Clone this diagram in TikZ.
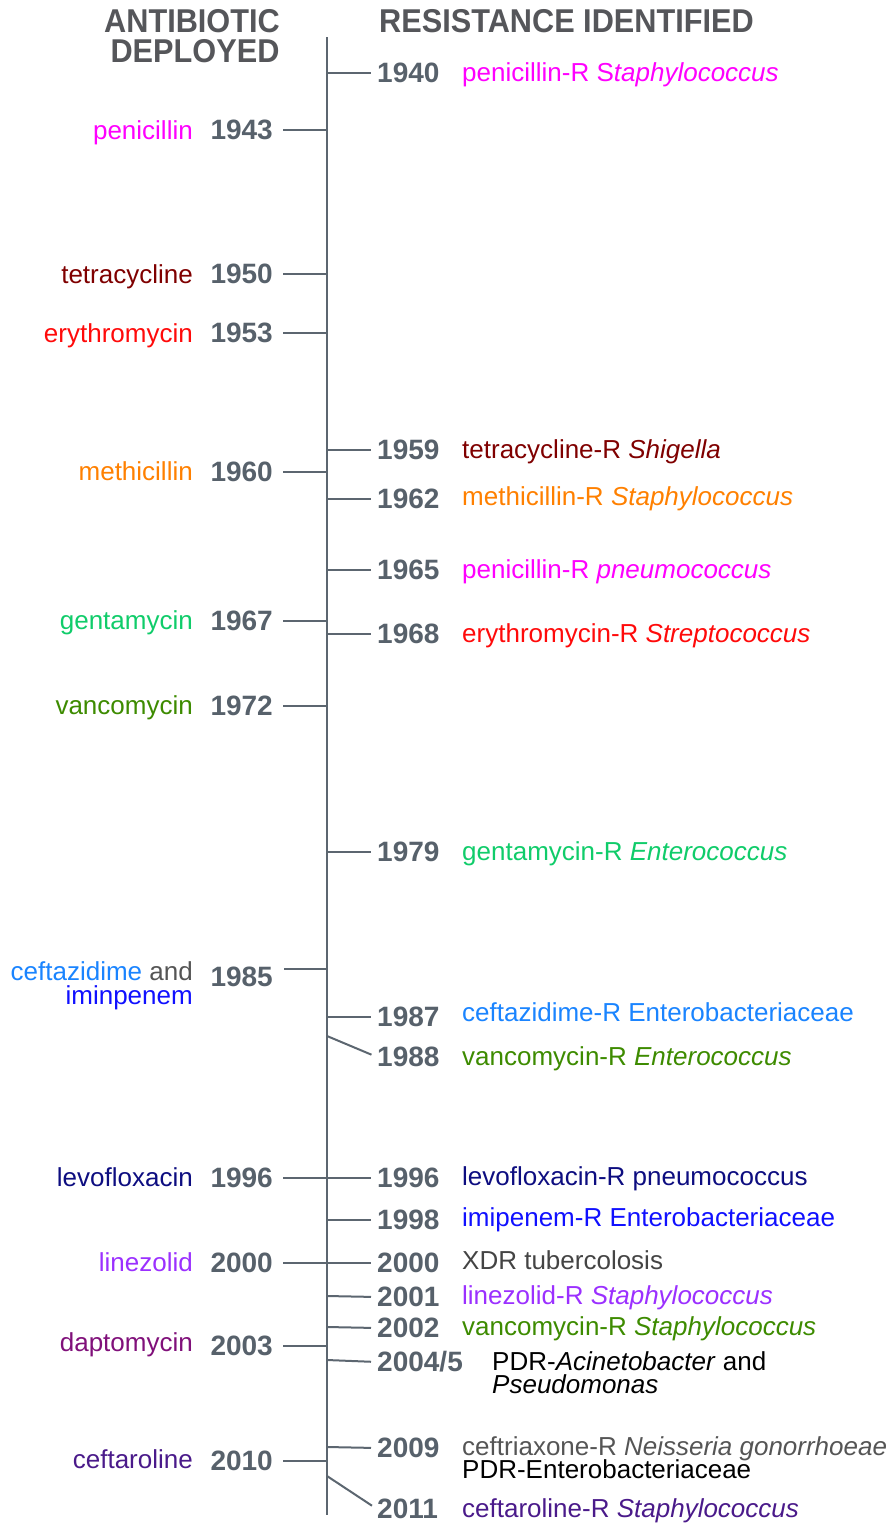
\documentclass[tikz,border=0pt]{standalone}
\usepackage{fontspec}
\setmainfont{Liberation Sans}
\newfontfamily\hdfont[FakeStretch=0.93]{Liberation Sans}
\definecolor{axisgray}{HTML}{5C6670}
\definecolor{yrgray}{HTML}{57616B}
\definecolor{hdgray}{HTML}{55565A}
\definecolor{cMag}{HTML}{FF00FF}
\definecolor{cDkred}{HTML}{7F0000}
\definecolor{cRed}{HTML}{FF0A0A}
\definecolor{cOrange}{HTML}{FF8000}
\definecolor{cGreen}{HTML}{10CC6A}
\definecolor{cOlive}{HTML}{3D8B00}
\definecolor{cLblue}{HTML}{1A84FF}
\definecolor{cBlue}{HTML}{1010FF}
\definecolor{cNavy}{HTML}{0D0D80}
\definecolor{cViolet}{HTML}{9B30FF}
\definecolor{cPlum}{HTML}{80107A}
\definecolor{cIndigo}{HTML}{4A1A8A}
\definecolor{cGray}{HTML}{444444}
\definecolor{cGray2}{HTML}{555555}
\begin{document}
\begin{tikzpicture}[x=1pt,y=-1pt,
  yr/.style={font=\fontsize{28}{30}\selectfont\bfseries, text=yrgray, inner sep=0pt},
  lbl/.style={font=\fontsize{26}{28}\selectfont, inner sep=0pt},
  hd/.style={font=\hdfont\fontsize{33}{32}\selectfont\bfseries, text=hdgray, inner sep=0pt, text depth=0pt, text height=23pt},
  tick/.style={draw=axisgray, line width=2pt},
  rtick/.style={tick, shorten >=6pt},
  ltick/.style={tick, shorten >=10pt}]
\useasboundingbox (0,0) rectangle (891,1523);

% headers
\node[hd, anchor=base] (h1) at (192,32) {ANTIBIOTIC};
\node[hd, anchor=base] (h2) at (195,62) {DEPLOYED};
\node[hd, anchor=base west] (h3) at (379,32) {RESISTANCE IDENTIFIED};

% axis
\coordinate (axtop) at (327,37);
\coordinate (axbot) at (327,1515);
\draw[tick] (axtop) -- (axbot);

% ---------- left side: antibiotic deployed ----------
\node[yr, anchor=east] (L1943) at (273,130) {1943};
\node[lbl, anchor=base east, text=cMag] (Ln1943) at (193,139) {penicillin};
\coordinate (aL1943) at (327,130);
\draw[ltick] (aL1943) -- (L1943.east);

\node[yr, anchor=east] (L1950) at (273,274) {1950};
\node[lbl, anchor=base east, text=cDkred] (Ln1950) at (193,283) {tetracycline};
\coordinate (aL1950) at (327,274);
\draw[ltick] (aL1950) -- (L1950.east);

\node[yr, anchor=east] (L1953) at (273,333) {1953};
\node[lbl, anchor=base east, text=cRed] (Ln1953) at (193,342) {erythromycin};
\coordinate (aL1953) at (327,333);
\draw[ltick] (aL1953) -- (L1953.east);

\node[yr, anchor=east] (L1960) at (273,472) {1960};
\node[lbl, anchor=base east, text=cOrange] (Ln1960) at (193,480) {methicillin};
\coordinate (aL1960) at (327,472);
\draw[ltick] (aL1960) -- (L1960.east);

\node[yr, anchor=east] (L1967) at (273,621) {1967};
\node[lbl, anchor=base east, text=cGreen] (Ln1967) at (193,629) {gentamycin};
\coordinate (aL1967) at (327,621);
\draw[ltick] (aL1967) -- (L1967.east);

\node[yr, anchor=east] (L1972) at (273,706) {1972};
\node[lbl, anchor=base east, text=cOlive] (Ln1972) at (193,714) {vancomycin};
\coordinate (aL1972) at (327,706);
\draw[ltick] (aL1972) -- (L1972.east);

\node[yr, anchor=east] (L1985) at (273,977) {1985};
\node[lbl, anchor=base east] (Ln1985a) at (193,980) {\textcolor{cLblue}{ceftazidime} \textcolor{cGray2}{and}};
\node[lbl, anchor=base east, text=cBlue] (Ln1985b) at (193,1004) {iminpenem};
\coordinate (aL1985) at (327,969);
\coordinate (eL1985) at (284,969);
\draw[tick] (aL1985) -- (eL1985);

\node[yr, anchor=east] (L1996) at (273,1178) {1996};
\node[lbl, anchor=base east, text=cNavy] (Ln1996) at (193,1186) {levofloxacin};
\coordinate (aL1996) at (327,1178);
\draw[ltick] (aL1996) -- (L1996.east);

\node[yr, anchor=east] (L2000) at (273,1263) {2000};
\node[lbl, anchor=base east, text=cViolet] (Ln2000) at (193,1271) {linezolid};
\coordinate (aL2000) at (327,1263);
\draw[ltick] (aL2000) -- (L2000.east);

\node[yr, anchor=east] (L2003) at (273,1346) {2003};
\node[lbl, anchor=base east, text=cPlum] (Ln2003) at (193,1351) {daptomycin};
\coordinate (aL2003) at (327,1346);
\draw[ltick] (aL2003) -- (L2003.east);

\node[yr, anchor=east] (L2010) at (273,1461) {2010};
\node[lbl, anchor=base east, text=cIndigo] (Ln2010) at (193,1468) {ceftaroline};
\coordinate (aL2010) at (327,1461);
\draw[ltick] (aL2010) -- (L2010.east);

% ---------- right side: resistance identified ----------
\node[yr, anchor=west] (R1940) at (377,73) {1940};
\node[lbl, anchor=base west, text=cMag] (Rn1940) at (462,81) {penicillin-R S\textit{taphylococcus}};
\coordinate (aR1940) at (327,73);
\draw[rtick] (aR1940) -- (R1940.west);

\node[yr, anchor=west] (R1959) at (377,450) {1959};
\node[lbl, anchor=base west, text=cDkred] (Rn1959) at (462,458) {tetracycline-R \textit{Shigella}};
\coordinate (aR1959) at (327,450);
\draw[rtick] (aR1959) -- (R1959.west);

\node[yr, anchor=west] (R1962) at (377,499) {1962};
\node[lbl, anchor=base west, text=cOrange] (Rn1962) at (462,505) {methicillin-R \textit{Staphylococcus}};
\coordinate (aR1962) at (327,499);
\draw[rtick] (aR1962) -- (R1962.west);

\node[yr, anchor=west] (R1965) at (377,570) {1965};
\node[lbl, anchor=base west, text=cMag] (Rn1965) at (462,578) {penicillin-R \textit{pneumococcus}};
\coordinate (aR1965) at (327,570);
\draw[rtick] (aR1965) -- (R1965.west);

\node[yr, anchor=west] (R1968) at (377,634) {1968};
\node[lbl, anchor=base west, text=cRed] (Rn1968) at (462,642) {erythromycin-R \textit{Streptococcus}};
\coordinate (aR1968) at (327,634);
\draw[rtick] (aR1968) -- (R1968.west);

\node[yr, anchor=west] (R1979) at (377,852) {1979};
\node[lbl, anchor=base west, text=cGreen] (Rn1979) at (462,860) {gentamycin-R \textit{Enterococcus}};
\coordinate (aR1979) at (327,852);
\draw[rtick] (aR1979) -- (R1979.west);

\node[yr, anchor=west] (R1987) at (377,1017) {1987};
\node[lbl, anchor=base west, text=cLblue] (Rn1987) at (462,1021) {ceftazidime-R Enterobacteriaceae};
\coordinate (aR1987) at (327,1017);
\draw[rtick] (aR1987) -- (R1987.west);

\node[yr, anchor=west] (R1988) at (377,1057) {1988};
\node[lbl, anchor=base west, text=cOlive] (Rn1988) at (462,1065) {vancomycin-R \textit{Enterococcus}};
\coordinate (aR1988) at (327,1036);
\draw[rtick] (aR1988) -- (R1988.west);

\node[yr, anchor=west] (R1996) at (377,1178) {1996};
\node[lbl, anchor=base west, text=cNavy] (Rn1996) at (462,1185) {levofloxacin-R pneumococcus};
\coordinate (aR1996) at (327,1178);
\draw[rtick] (aR1996) -- (R1996.west);

\node[yr, anchor=west] (R1998) at (377,1220) {1998};
\node[lbl, anchor=base west, text=cBlue] (Rn1998) at (462,1226) {imipenem-R Enterobacteriaceae};
\coordinate (aR1998) at (327,1220);
\draw[rtick] (aR1998) -- (R1998.west);

\node[yr, anchor=west] (R2000) at (377,1263) {2000};
\node[lbl, anchor=base west, text=cGray] (Rn2000) at (462,1269) {XDR tubercolosis};
\coordinate (aR2000) at (327,1263);
\draw[rtick] (aR2000) -- (R2000.west);

\node[yr, anchor=west] (R2001) at (377,1297) {2001};
\node[lbl, anchor=base west, text=cViolet] (Rn2001) at (462,1304) {linezolid-R \textit{Staphylococcus}};
\coordinate (aR2001) at (327,1296);
\draw[rtick] (aR2001) -- (R2001.west);

\node[yr, anchor=west] (R2002) at (377,1328) {2002};
\node[lbl, anchor=base west, text=cOlive] (Rn2002) at (462,1335) {vancomycin-R \textit{Staphylococcus}};
\coordinate (aR2002) at (327,1327);
\draw[rtick] (aR2002) -- (R2002.west);

\node[yr, anchor=west] (R2004) at (377,1362) {2004/5};
\node[lbl, anchor=base west, text=black] (Rn2004a) at (492,1370) {PDR-\textit{Acinetobacter} and};
\node[lbl, anchor=base west, text=black] (Rn2004b) at (492,1393) {\textit{Pseudomonas}};
\coordinate (aR2004) at (327,1360);
\draw[rtick] (aR2004) -- (R2004.west);

\node[yr, anchor=west] (R2009) at (377,1448) {2009};
\node[lbl, anchor=base west, text=cGray2] (Rn2009a) at (462,1455) {ceftriaxone-R \textit{Neisseria gonorrhoeae}};
\node[lbl, anchor=base west, text=black] (Rn2009b) at (462,1478) {PDR-Enterobacteriaceae};
\coordinate (aR2009) at (327,1447);
\draw[rtick] (aR2009) -- (R2009.west);

\node[yr, anchor=west] (R2011) at (377,1509) {2011};
\node[lbl, anchor=base west, text=cIndigo] (Rn2011) at (462,1517) {ceftaroline-R \textit{Staphylococcus}};
\coordinate (aR2011) at (327,1476);
\draw[rtick] (aR2011) -- (R2011.west);
\end{tikzpicture}
\end{document}
